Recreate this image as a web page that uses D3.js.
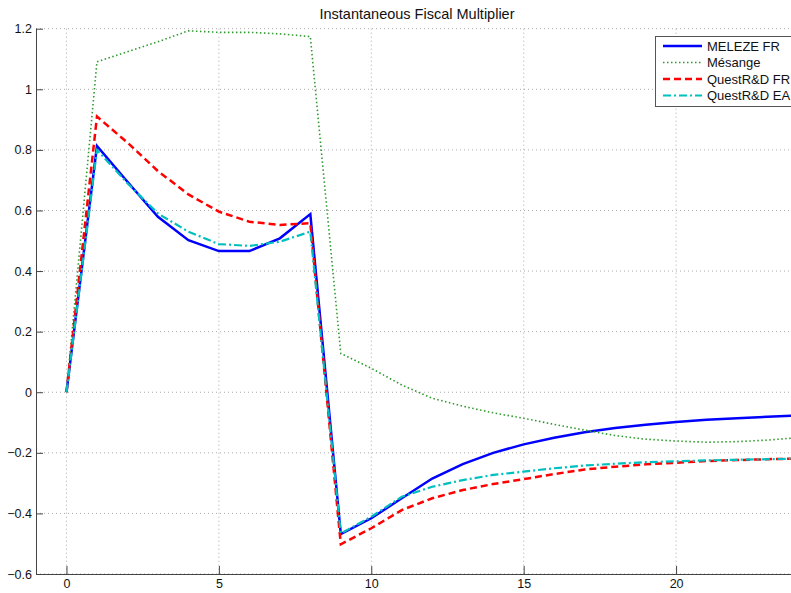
<!DOCTYPE html>
<html><head><meta charset="utf-8">
<script src="https://cdn.jsdelivr.net/npm/d3@7"></script>
<style>body{margin:0;background:#fff;} svg{display:block;font-family:"Liberation Sans",Arial,sans-serif;}</style>
</head><body>
<svg id="c" width="791" height="593"></svg>
<script>
const periods = d3.range(0, 25);
const meleze = [0, 0.813, 0.695, 0.579, 0.502, 0.466, 0.466, 0.508, 0.588, -0.468, -0.416, -0.350, -0.285, -0.237, -0.200, -0.172, -0.150, -0.132, -0.118, -0.107, -0.098, -0.091, -0.086, -0.081, -0.077];
const mesange = [0, 1.091, 1.124, 1.157, 1.193, 1.188, 1.188, 1.183, 1.174, 0.128, 0.079, 0.024, -0.020, -0.046, -0.068, -0.086, -0.106, -0.125, -0.143, -0.155, -0.161, -0.165, -0.163, -0.158, -0.150];
const questFR = [0, 0.910, 0.824, 0.730, 0.653, 0.596, 0.563, 0.552, 0.558, -0.502, -0.449, -0.389, -0.350, -0.323, -0.303, -0.287, -0.270, -0.255, -0.246, -0.238, -0.233, -0.227, -0.224, -0.221, -0.219];
const questEA = [0, 0.800, 0.690, 0.590, 0.530, 0.489, 0.483, 0.497, 0.530, -0.466, -0.411, -0.345, -0.312, -0.290, -0.273, -0.262, -0.251, -0.242, -0.236, -0.231, -0.228, -0.225, -0.223, -0.221, -0.219];
const seriesNames = ["MELEZE FR", "Mésange", "QuestR&D FR", "QuestR&D EA"];
const xTicks = [0, 5, 10, 15, 20];
const yTicks = [-0.6, -0.4, -0.2, 0, 0.2, 0.4, 0.6, 0.8, 1, 1.2];
const title = "Instantaneous Fiscal Multiplier";

const styles = [
  {color:"#0000ff", width:2.5, dash:null},
  {color:"#2e9a2e", width:1.6, dash:"1.5,2.5"},
  {color:"#ff0000", width:2.5, dash:"7,4"},
  {color:"#00bfbf", width:2.2, dash:"8,3,2,3"}
];
const allSeries = [meleze, mesange, questFR, questEA];

const svg = d3.select("#c");
const L = 36, R = 798, T = 28.7, B = 574;
const x = d3.scaleLinear().domain([-1, 24]).range([L, R]);
const y = d3.scaleLinear().domain([-0.6, 1.2]).range([B, T]);

// grid
const g = svg.append("g");
g.selectAll(".gx").data(xTicks).join("line")
  .attr("x1", d => x(d)).attr("x2", d => x(d)).attr("y1", T).attr("y2", B)
  .attr("stroke", "#aaa").attr("stroke-width", 1).attr("stroke-dasharray", "1,3");
g.selectAll(".gy").data(yTicks).join("line")
  .attr("x1", L).attr("x2", R).attr("y1", d => y(d)).attr("y2", d => y(d))
  .attr("stroke", "#aaa").attr("stroke-width", 1).attr("stroke-dasharray", "1,3");

// axes
const yAxis = d3.axisLeft(y).tickValues(yTicks).tickSize(-7).tickPadding(4)
  .tickFormat(d => d3.format("")(+d.toFixed(1)));
const ya = svg.append("g").attr("transform", `translate(${L},0)`).call(yAxis);
const xAxis = d3.axisBottom(x).tickValues(xTicks).tickSize(-8).tickPadding(5);
const xa = svg.append("g").attr("transform", `translate(0,${B})`).call(xAxis);
[ya, xa].forEach(a => {
  a.select(".domain").attr("stroke", "#444").attr("stroke-width", 1);
  a.selectAll(".tick line").attr("stroke", "#444");
  a.selectAll("text").attr("font-size", 12.5).attr("fill", "#111")
    .attr("font-family", "Liberation Sans, Arial, sans-serif");
});
xa.select(".domain").attr("d", `M${L},0.5H${R}`);
ya.select(".domain").attr("d", `M0.5,${B}V${T}`);

// lines
const line = d3.line().x((d, i) => x(periods[i])).y(d => y(d));
allSeries.forEach((s, k) => {
  svg.append("path").datum(s).attr("d", line).attr("fill", "none")
    .attr("stroke", styles[k].color).attr("stroke-width", styles[k].width)
    .attr("stroke-dasharray", styles[k].dash);
});

// title
svg.append("text").attr("x", (L + R) / 2).attr("y", 19).attr("text-anchor", "middle")
  .attr("font-size", 14.5).attr("fill", "#111").text(title);

// legend
const lg = svg.append("g");
lg.append("rect").attr("x", 655.5).attr("y", 36.5).attr("width", 150).attr("height", 70)
  .attr("fill", "#fff").attr("stroke", "#555").attr("stroke-width", 1);
seriesNames.forEach((n, k) => {
  const yy = 46 + k * 16.5;
  lg.append("line").attr("x1", 663).attr("x2", 702).attr("y1", yy).attr("y2", yy)
    .attr("stroke", styles[k].color).attr("stroke-width", styles[k].width)
    .attr("stroke-dasharray", styles[k].dash);
  lg.append("text").attr("x", 707).attr("y", yy + 4.5).attr("font-size", 13)
    .attr("fill", "#111").text(n);
});
</script>
</body></html>
